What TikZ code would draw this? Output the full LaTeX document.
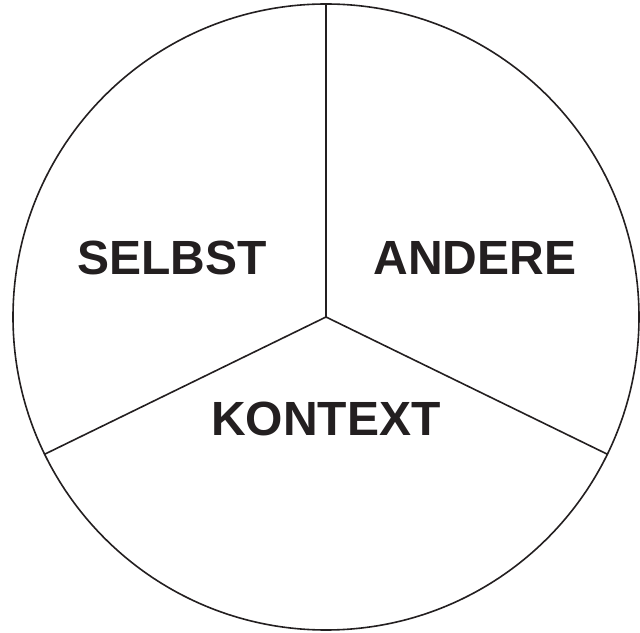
\documentclass[tikz,border=0pt]{standalone}
\usepackage{fontspec}
\setmainfont{Liberation Sans}
\usetikzlibrary{calc}
\definecolor{ink}{RGB}{35,31,32}
\begin{document}
\begin{tikzpicture}[x=1pt,y=1pt,
  lbl/.style={font=\fontsize{48}{50}\selectfont\bfseries, anchor=base, inner sep=0pt, text=ink},
  seg/.style={line width=1.6pt, draw=ink}]
\useasboundingbox (0,0) rectangle (640,632);
\coordinate (c) at (326,315);
\draw[seg] (c) circle (313);
\coordinate (t) at ($(c)+(90:313)$);
\coordinate (l) at ($(c)+(206:313)$);
\coordinate (r) at ($(c)+(-26:313)$);
\draw[seg] (c) -- (t);
\draw[seg] (c) -- (l);
\draw[seg] (c) -- (r);
\node[lbl] (selbst) at (172,357) {SELBST};
\node[lbl] (andere) at (475,357) {ANDERE};
\node[lbl] (kontext) at (326,196) {KONTEXT};
\end{tikzpicture}
\end{document}
